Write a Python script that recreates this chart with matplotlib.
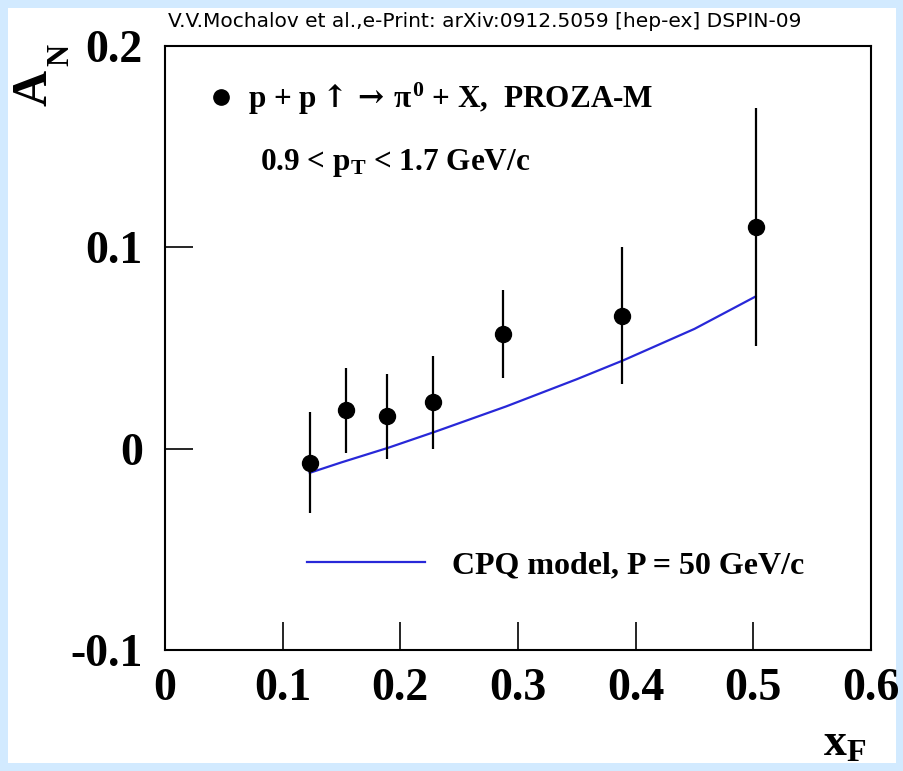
import numpy as np
import matplotlib.pyplot as plt
from matplotlib.patches import Rectangle
from matplotlib.lines import Line2D

plt.rcParams['font.family'] = ['Liberation Serif', 'DejaVu Serif']
plt.rcParams['font.weight'] = 'bold'
plt.rcParams['mathtext.fontset'] = 'custom'
plt.rcParams['mathtext.rm'] = 'Liberation Serif:bold'
plt.rcParams['mathtext.it'] = 'Liberation Serif:bold'
plt.rcParams['mathtext.bf'] = 'Liberation Serif:bold'
plt.rcParams['mathtext.sf'] = 'DejaVu Serif'

# PROZA-M pi0 asymmetry, 0.9 < pT < 1.7 GeV/c
xf = [0.123, 0.154, 0.189, 0.228, 0.287, 0.388, 0.502]
an = [-0.007, 0.019, 0.016, 0.023, 0.057, 0.066, 0.110]
an_err = [0.025, 0.021, 0.021, 0.023, 0.022, 0.034, 0.059]

# CPQ model, P = 50 GeV/c
cpq_x = [0.123, 0.15, 0.19, 0.23, 0.29, 0.35, 0.39, 0.45, 0.502]
cpq_y = [-0.012, -0.0068, 0.0005, 0.0085, 0.021, 0.0345, 0.044, 0.0595, 0.0756]

xticks = [0, 0.1, 0.2, 0.3, 0.4, 0.5, 0.6]
xticklabels = ['0', '0.1', '0.2', '0.3', '0.4', '0.5', '0.6']
yticks = [-0.1, 0, 0.1, 0.2]
yticklabels = ['-0.1', '0', '0.1', '0.2']

fig = plt.figure(figsize=(9.04, 7.71), dpi=100, facecolor='#d2eaff')
fig.patches.append(Rectangle((8 / 904, 8 / 771), 888 / 904, 755 / 771,
                             transform=fig.transFigure, facecolor='white',
                             edgecolor='none', zorder=-5))
ax = fig.add_axes([165 / 904, 1 - 650 / 771, 706 / 904, 604 / 771])
ax.set_facecolor('none')

ax.errorbar(xf, an, yerr=an_err, fmt='o', color='black', ms=11.5,
            elinewidth=1.6, capsize=0, zorder=3)
ax.plot(cpq_x, cpq_y, color='#2828d8', lw=1.6, zorder=2)

ax.set_xlim(0, 0.6)
ax.set_ylim(-0.1, 0.2)
ax.set_xticks(xticks)
ax.set_xticklabels(xticklabels)
ax.set_yticks(yticks)
ax.set_yticklabels(yticklabels)
ax.tick_params(direction='in', length=20, width=1.2, labelsize=33,
               top=False, right=False)
ax.tick_params(axis='x', pad=13)
ax.tick_params(axis='y', pad=16)
for s in ax.spines.values():
    s.set_linewidth(1.5)

# legends
dot = Line2D([], [], marker='o', ls='none', color='black', ms=11)
leg1 = ax.legend([dot],
                 [r'p + p$\mathsf{\uparrow}\mathsf{\rightarrow}\,\pi^{0}$ + X,  PROZA-M'],
                 loc='upper left', bbox_to_anchor=(0.0595, 0.943),
                 frameon=False, fontsize=22.5, handlelength=0.9,
                 handletextpad=0.4, borderpad=0, borderaxespad=0)
ax.add_artist(leg1)
ax.text((260 - 165) / 706, (650 - 170) / 604,
        r'0.9 < p$_{\mathrm{T}}$ < 1.7 GeV/c', transform=ax.transAxes,
        fontsize=22.5, ha='left', va='baseline')
cpq_line = Line2D([], [], color='#2828d8', lw=1.6)
ax.legend([cpq_line], ['CPQ model, P = 50 GeV/c'],
          loc='center left', bbox_to_anchor=(0.201, 0.140),
          frameon=False, fontsize=23, handlelength=3.7,
          handletextpad=0.85, borderpad=0, borderaxespad=0)

# axis titles
fig.text(35 / 904, 1 - 88 / 771, 'A', rotation=90,
         fontsize=36, ha='center', va='center')
fig.text(61 / 904, 1 - 55 / 771, 'N', rotation=90,
         fontsize=22, ha='center', va='center')
fig.text(845 / 904, 1 - 745 / 771, r'x$_{\mathrm{F}}$',
         fontsize=33, ha='center', va='center')
fig.text(168 / 904, 1 - 27 / 771,
         'V.V.Mochalov et al.,e-Print: arXiv:0912.5059 [hep-ex] DSPIN-09',
         family='DejaVu Sans', weight='normal', fontsize=14.5,
         ha='left', va='baseline')

fig.savefig('out.png', dpi=100, facecolor=fig.get_facecolor())
